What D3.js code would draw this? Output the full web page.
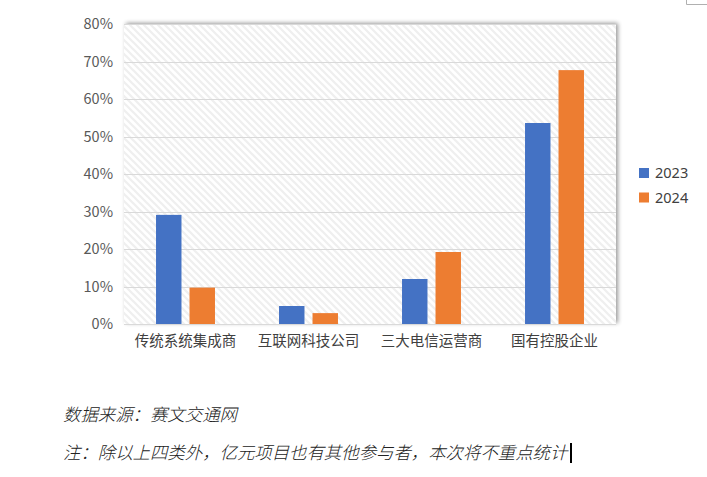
<!DOCTYPE html>
<html><head><meta charset="utf-8">
<script src="https://cdn.jsdelivr.net/npm/d3@7"></script>
<style>
html,body{margin:0;padding:0;background:#fff;}
svg{display:block;}
</style></head>
<body>
<script>
const categories = ["传统系统集成商","互联网科技公司","三大电信运营商","国有控股企业"];
const seriesNames = ["2023","2024"];
const values2023 = [0.291, 0.048, 0.120, 0.536];
const values2024 = [0.097, 0.029, 0.192, 0.677];
const yTicks = [0,0.1,0.2,0.3,0.4,0.5,0.6,0.7,0.8];
const colors = ["#4472C4","#ED7D31"];
const footnotes = ["数据来源：赛文交通网","注：除以上四类外，亿元项目也有其他参与者，本次将不重点统计"];

const W=707,H=477;
const m={left:124,right:616,top:24,bottom:324};
const svg=d3.select("body").append("svg").attr("width",W).attr("height",H);
const defs=svg.append("defs");
const P=7;
const pat=defs.append("pattern").attr("id","hatch").attr("patternUnits","userSpaceOnUse")
  .attr("width",P).attr("height",P);
pat.append("rect").attr("width",P).attr("height",P).attr("fill","#fff");
pat.append("path").attr("d",`M-1,-1 L${P+1},${P+1} M-1,${P-1} L1,${P+1} M${P-1},-1 L${P+1},1`).attr("stroke","#efefef").attr("stroke-width",2.2);
const f=defs.append("filter").attr("id","sh").attr("x","-5%").attr("y","-5%").attr("width","110%").attr("height","110%");
f.append("feGaussianBlur").attr("in","SourceAlpha").attr("stdDeviation",2.2);
f.append("feOffset").attr("dx",1.5).attr("dy",-1).attr("result","b");
f.append("feComponentTransfer").append("feFuncA").attr("type","linear").attr("slope",0.4);
const mg=f.append("feMerge"); mg.append("feMergeNode"); mg.append("feMergeNode").attr("in","SourceGraphic");

const x=d3.scaleBand().domain(categories).range([m.left,m.right]);
const xs=d3.scaleBand().domain(seriesNames).range([0,x.bandwidth()]).paddingInner(0.24).paddingOuter(0.956);
const y=d3.scaleLinear().domain([0,0.8]).range([m.bottom,m.top]);

svg.append("rect").attr("x",m.left).attr("y",m.top).attr("width",m.right-m.left).attr("height",m.bottom-m.top)
  .attr("fill","url(#hatch)").attr("filter","url(#sh)");

svg.append("g").selectAll("line").data(yTicks.slice(1)).join("line")
  .attr("x1",m.left).attr("x2",m.right).attr("y1",d=>Math.round(y(d))+0.5).attr("y2",d=>Math.round(y(d))+0.5)
  .attr("stroke","#d9d9d9").attr("stroke-width",1);

const yAxis=svg.append("g").attr("transform",`translate(${m.left-11},0)`)
  .call(d3.axisLeft(y).tickValues(yTicks).tickFormat(d3.format(".0%")).tickSize(0).tickPadding(0));
yAxis.select(".domain").remove();
yAxis.selectAll("text").attr("font-family","'Noto Sans CJK SC','Noto Sans',sans-serif").attr("font-size",14.5).attr("fill","#595959");

const series=[values2023,values2024];
const g=svg.append("g");
seriesNames.forEach((s,si)=>{
  g.selectAll(null).data(categories).join("rect")
   .attr("x",(c)=>x(c)+xs(s)).attr("width",xs.bandwidth())
   .attr("y",(c,i)=>y(series[si][i])).attr("height",(c,i)=>y(0)-y(series[si][i]))
   .attr("fill",colors[si]);
});

svg.append("line").attr("x1",m.left).attr("x2",m.right).attr("y1",m.bottom+0.5).attr("y2",m.bottom+0.5)
  .attr("stroke","#d9d9d9").attr("stroke-width",1);

const xAxis=svg.append("g").attr("transform",`translate(0,${m.bottom})`)
  .call(d3.axisBottom(x).tickSize(0).tickPadding(12));
xAxis.select(".domain").remove();
xAxis.selectAll("text").attr("font-family","'Noto Sans CJK SC',sans-serif").attr("font-size",14.5).attr("fill","#404040");

const leg=svg.append("g");
seriesNames.forEach((s,i)=>{
  const ly=173+i*24.5;
  leg.append("rect").attr("x",639).attr("y",ly-5).attr("width",10).attr("height",10).attr("fill",colors[i]);
  leg.append("text").attr("x",655).attr("y",ly).attr("dy","0.36em").text(s)
   .attr("font-family","'Noto Sans','Liberation Sans',sans-serif").attr("font-size",14.5).attr("fill","#404040");
});

svg.append("path").attr("d","M686.5,0 V4.5 H707").attr("fill","none").attr("stroke","#b0b0b0").attr("stroke-width",1);

footnotes.forEach((t,i)=>{
  svg.append("text").attr("x",63).attr("y",415+i*38).attr("dy","0.36em").text(t)
   .attr("font-family","'Noto Sans CJK SC',serif").attr("font-style","italic").attr("font-weight",300).attr("font-size",17.4).attr("fill","#222");
});
svg.append("rect").attr("x",570).attr("y",443).attr("width",2).attr("height",20).attr("fill","#000");
</script>
</body></html>
